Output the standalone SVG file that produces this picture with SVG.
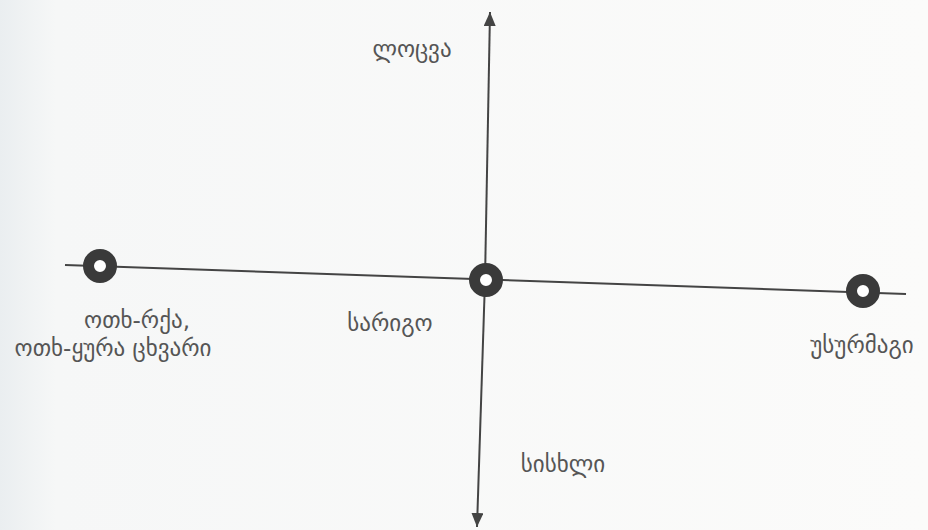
<svg xmlns="http://www.w3.org/2000/svg" width="928" height="530" viewBox="0 0 928 530">
  <defs>
    <linearGradient id="bg" x1="0" y1="0" x2="1" y2="0">
      <stop offset="0" stop-color="#eaeef0"/>
      <stop offset="0.06" stop-color="#f6f7f7"/>
      <stop offset="1" stop-color="#fbfbfa"/>
    </linearGradient>
    <marker id="arr" viewBox="0 0 14 12" refX="14" refY="6" markerWidth="14" markerHeight="12" markerUnits="userSpaceOnUse" orient="auto">
      <path d="M0,0 L14,6 L0,12 z" fill="#444"/>
    </marker>
  </defs>
  <style>
    .axis { stroke: #444; stroke-width: 2; fill: none; }
    .ring { fill: #fff; stroke: #3a3a3a; stroke-width: 11; }
    .lbl { font-family: "DejaVu Sans", "Noto Sans", sans-serif; font-size: 23px; fill: #555; }
  </style>
  <rect width="928" height="530" fill="url(#bg)"/>
  <g id="connectors">
    <line class="axis" x1="65" y1="265" x2="906" y2="294"/>
    <line class="axis" x1="485" y1="280" x2="490" y2="12" marker-end="url(#arr)"/>
    <line class="axis" x1="485" y1="280" x2="477" y2="527" marker-end="url(#arr)"/>
  </g>
  <g id="node-left">
    <circle class="ring" cx="100" cy="266" r="11.5"/>
    <text class="lbl" x="137" y="328" text-anchor="middle">ოთხ-რქა,</text>
    <text class="lbl" x="113" y="356" text-anchor="middle">ოთხ-ყურა ცხვარი</text>
  </g>
  <g id="node-center">
    <circle class="ring" cx="486" cy="280" r="11.5"/>
    <text class="lbl" x="390" y="331" text-anchor="middle">სარიგო</text>
  </g>
  <g id="node-right">
    <circle class="ring" cx="863" cy="291" r="11.5"/>
    <text class="lbl" x="862" y="353" text-anchor="middle">უსურმაგი</text>
  </g>
  <g id="label-top">
    <text class="lbl" x="412" y="57" text-anchor="middle">ლოცვა</text>
  </g>
  <g id="label-bottom">
    <text class="lbl" x="563" y="472" text-anchor="middle">სისხლი</text>
  </g>
</svg>
